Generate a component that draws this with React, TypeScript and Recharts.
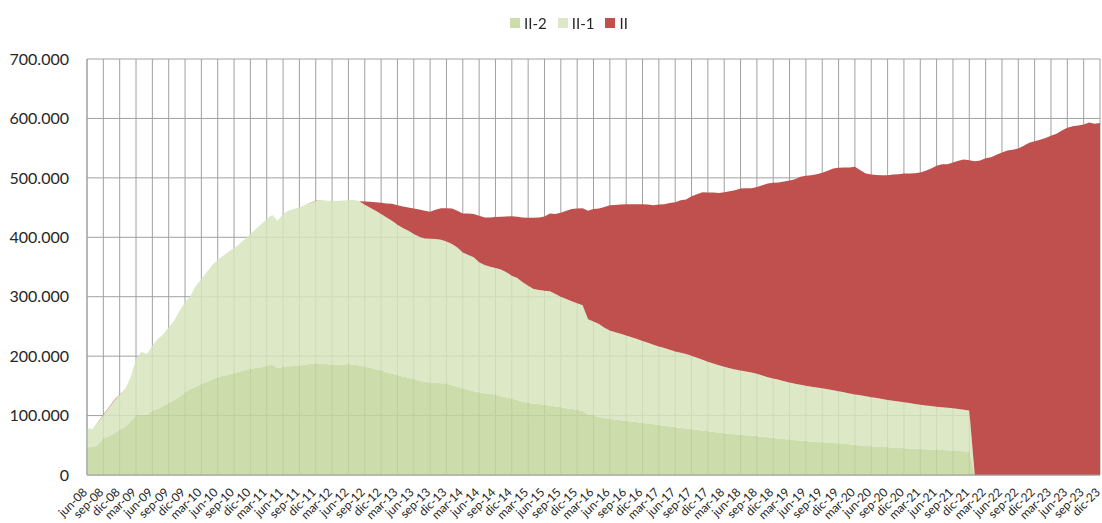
import React from "react";
import { Area, AreaChart, CartesianGrid, Legend, XAxis, YAxis } from "recharts";

const FONT = "Lato, 'Open Sans', sans-serif";
const TEXT = "#262626";
const GRID = "#a0a0a0";

// monthly, jun-08 .. dic-23 (Spanish month abbreviations)
const MONTHS = ["ene", "feb", "mar", "abr", "may", "jun", "jul", "ago", "sep", "oct", "nov", "dic"];
const FIRST_MONTH = 5; // jun
const FIRST_YEAR = 2008;

// values in thousands
const II_2 = [
  46.5, 47.1, 51.0, 61.7, 65.0, 70.0, 76.3, 81.3, 90.3, 99.8,
  102.0, 101.0, 108.2, 111.0, 116.6, 120.6, 126.0, 131.8, 139.0, 144.7,
  148.6, 153.1, 157.0, 161.0, 164.3, 167.1, 168.8, 171.6, 173.9, 176.7,
  178.4, 180.0, 181.2, 184.0, 185.6, 179.5, 182.3, 182.8, 183.4, 184.0,
  185.6, 186.8, 187.9, 187.3, 186.8, 185.6, 184.8, 185.9, 186.5, 185.9,
  184.2, 182.0, 180.3, 178.0, 175.8, 173.0, 170.2, 168.0, 165.7, 163.5,
  161.3, 159.0, 156.8, 155.7, 155.1, 154.5, 154.0, 151.2, 148.4, 145.6,
  143.3, 141.1, 138.9, 137.7, 136.6, 135.0, 132.7, 130.5, 128.2, 126.0,
  123.7, 121.5, 119.8, 119.3, 118.1, 117.0, 115.3, 114.2, 112.5, 110.9,
  109.7, 107.5, 101.9, 99.7, 98.0, 96.0, 94.4, 93.3, 92.1, 91.0,
  89.9, 88.8, 87.6, 86.5, 85.4, 84.3, 83.1, 81.5, 80.3, 79.2,
  78.1, 77.0, 75.8, 74.7, 73.6, 72.5, 71.3, 70.2, 69.1, 68.5,
  67.4, 66.9, 66.3, 65.2, 64.0, 63.5, 62.4, 61.2, 60.7, 59.6,
  58.4, 57.9, 56.7, 56.2, 55.6, 55.1, 54.5, 53.9, 53.4, 52.5,
  51.6, 50.6, 49.8, 49.0, 48.3, 47.7, 47.1, 46.6, 46.0, 45.5,
  45.0, 44.6, 44.2, 43.8, 43.4, 43.0, 42.7, 42.1, 41.6, 41.0,
  40.5, 40.0, 39.5, 0, 0, 0, 0, 0, 0, 0,
  0, 0, 0, 0, 0, 0, 0, 0, 0, 0,
  0, 0, 0, 0, 0, 0, 0,
];

const II_1 = [
  32.0, 30.3, 37.6, 39.3, 47.7, 55.0, 58.7, 63.4, 73.7, 95.2,
  105.5, 102.6, 109.4, 118.0, 120.4, 127.9, 133.7, 144.7, 151.5, 157.0,
  170.0, 176.7, 184.0, 192.3, 197.4, 201.9, 207.0, 210.3, 214.8, 220.3,
  227.1, 234.0, 241.1, 246.7, 251.9, 248.5, 256.7, 262.2, 264.2, 266.4,
  268.7, 270.8, 273.7, 275.4, 274.8, 276.0, 276.2, 276.1, 276.0, 277.1,
  276.6, 272.6, 269.3, 266.6, 263.2, 260.4, 257.6, 253.0, 249.8, 247.5,
  244.1, 242.0, 241.2, 241.8, 241.9, 241.4, 239.0, 237.4, 234.6, 229.0,
  226.7, 225.1, 218.9, 215.6, 213.9, 213.3, 213.3, 210.5, 207.2, 205.5,
  200.5, 197.1, 193.2, 192.0, 192.1, 192.0, 189.3, 185.9, 183.7, 181.4,
  179.2, 178.1, 160.1, 158.4, 156.2, 151.8, 148.9, 147.1, 145.5, 143.8,
  142.1, 139.9, 137.7, 136.0, 133.6, 132.0, 130.4, 129.2, 127.6, 126.4,
  125.3, 123.6, 121.4, 119.1, 116.8, 115.1, 113.5, 111.8, 110.7, 109.0,
  108.4, 107.3, 106.2, 105.0, 103.4, 101.1, 100.0, 98.9, 97.2, 96.0,
  95.0, 93.8, 93.3, 92.1, 91.6, 90.9, 89.9, 88.8, 87.6, 86.7,
  85.7, 84.8, 84.2, 83.5, 82.7, 81.8, 80.9, 79.8, 79.0, 78.3,
  77.5, 76.4, 75.3, 74.2, 73.6, 73.0, 72.3, 71.9, 71.6, 71.4,
  70.5, 69.8, 69.0, 0, 0, 0, 0, 0, 0, 0,
  0, 0, 0, 0, 0, 0, 0, 0, 0, 0,
  0, 0, 0, 0, 0, 0, 0,
];

const II = [
  0, 0, 0.5, 1, 1, 1, 0.5, 0, 0, 0,
  0, 0, 0, 0, 0, 0, 0, 0, 0, 0,
  0, 0, 0, 0, 0, 0, 0, 0, 0, 0,
  0, 0, 0, 0, 0, 0, 0, 0, 0, 0,
  0, 0.5, 0.5, 0, 0, 0, 0, 0, 0, 0,
  0, 5.6, 10.1, 14.5, 19.0, 23.5, 28.5, 33.1, 36.3, 39.2,
  43.1, 45.8, 46.6, 45.4, 49.3, 53.1, 56.0, 59.9, 61.6, 65.5,
  70.1, 72.8, 78.4, 80.1, 82.9, 85.7, 88.5, 94.0, 100.2, 103.0,
  109.2, 114.2, 119.8, 122.1, 124.8, 131.1, 134.4, 141.1, 148.4, 155.1,
  159.6, 163.4, 182.6, 189.3, 194.3, 203.2, 210.7, 214.1, 217.4, 220.8,
  223.6, 226.9, 230.3, 232.5, 235.0, 238.7, 242.1, 247.2, 251.1, 256.8,
  260.1, 268.5, 275.3, 282.0, 284.9, 287.7, 289.9, 293.8, 297.7, 301.7,
  306.2, 308.4, 310.1, 314.6, 320.2, 325.8, 329.2, 332.0, 335.9, 339.9,
  344.4, 350.0, 353.4, 356.2, 359.0, 362.4, 367.4, 373.0, 375.9, 378.2,
  380.1, 383.1, 378.9, 374.8, 374.6, 375.5, 376.5, 378.1, 380.6, 382.4,
  384.8, 386.3, 388.4, 391.0, 394.8, 399.7, 405.2, 409.0, 409.8, 413.4,
  417.7, 421.1, 421.3, 528.0, 529.2, 533.0, 534.8, 538.8, 542.7, 546.0,
  547.2, 549.4, 553.9, 559.0, 561.8, 564.0, 566.9, 570.8, 574.2, 579.8,
  584.3, 587.0, 588.2, 589.9, 593.3, 591.0, 592.1,
];

const Y_TICKS = [0, 100000, 200000, 300000, 400000, 500000, 600000, 700000];

const MONTH_LABELS = II.map((_, i) => {
  const m = FIRST_MONTH + i;
  const yy = String((FIRST_YEAR + Math.floor(m / 12)) % 100).padStart(2, "0");
  return `${MONTHS[m % 12]}-${yy}`;
});

const SERIES = [
  { key: "II-2", values: II_2, color: "#c3d69b", opacity: 0.85 },
  { key: "II-1", values: II_1, color: "#d7e4bc", opacity: 0.85 },
  { key: "II", values: II, color: "#c0504d", opacity: 1 },
];

const data = MONTH_LABELS.map((m, i) => {
  const row: any = { m };
  SERIES.forEach((s) => (row[s.key] = s.values[i] * 1000));
  return row;
});

const fmt = (v: number) => String(v).replace(/\B(?=(\d{3})+(?!\d))/g, ".");

function MonthTick({ x, y, payload }: any) {
  const ax = x - 2;
  const ay = y + 7;
  return (
    <text
      x={ax}
      y={ay}
      dy="0.35em"
      textAnchor="end"
      transform={`rotate(-45, ${ax}, ${ay})`}
      fontSize={12}
      fontFamily={FONT}
      fill={TEXT}
    >
      {payload.value}
    </text>
  );
}

function LegendBox({ payload }: any) {
  const order = (k: string) => SERIES.findIndex((s) => s.key === k);
  const items = [...(payload || [])].sort((a: any, b: any) => order(a.value) - order(b.value));
  return (
    <div style={{ display: "flex", justifyContent: "center", gap: 11, fontFamily: FONT, fontSize: 15, color: TEXT }}>
      {items.map((p: any) => {
        const s = SERIES[order(p.value)];
        return (
          <div key={p.value} style={{ display: "flex", alignItems: "center", gap: 4 }}>
            <span style={{ width: 10, height: 10, background: s?.color, opacity: s?.opacity }} />
            <span>{p.value}</span>
          </div>
        );
      })}
    </div>
  );
}

export default function App() {
  return (
    <div style={{ position: "fixed", left: 0, top: 0, width: 1102, height: 523, background: "#fff" }}>
      <AreaChart width={1102} height={523} data={data} margin={{ top: 59, right: 2, bottom: 0, left: 0 }}>
        <CartesianGrid stroke={GRID} strokeWidth={1} />
        <XAxis
          dataKey="m"
          interval={2}
          tickLine={false}
          axisLine={{ stroke: GRID }}
          height={48}
          tick={<MonthTick />}
        />
        <YAxis
          width={87}
          domain={[0, 700000]}
          ticks={Y_TICKS}
          tickFormatter={fmt}
          tickLine={false}
          axisLine={{ stroke: GRID }}
          tickMargin={12}
          tick={{ fontSize: 16, fill: TEXT, fontFamily: FONT }}
        />
        <Legend
          layout="horizontal"
          verticalAlign="middle"
          align="center"
          wrapperStyle={{ top: 14, left: 18, width: 1102 }}
          content={<LegendBox />}
        />
        {SERIES.map((s) => (
          <Area
            key={s.key}
            type="linear"
            dataKey={s.key}
            name={s.key}
            stackId="1"
            stroke="none"
            fill={s.color}
            fillOpacity={s.opacity}
            isAnimationActive={false}
            activeDot={false}
          />
        ))}
      </AreaChart>
    </div>
  );
}
